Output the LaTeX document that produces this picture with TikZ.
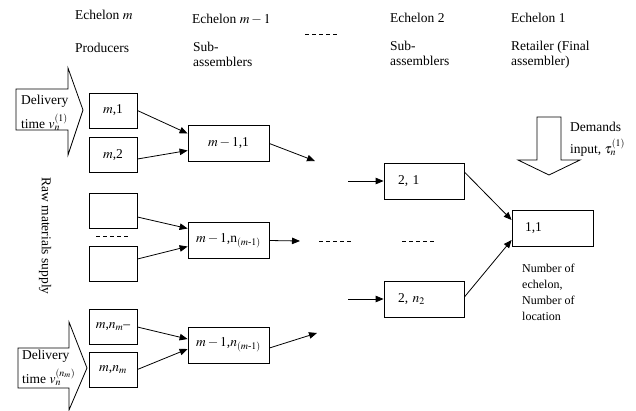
\documentclass[tikz,border=0pt]{standalone}
\usepackage{amsmath}
\usepackage{mathptmx}
\usepackage{fontspec}
\setmainfont{Liberation Serif}
\usetikzlibrary{calc,arrows.meta}
\tikzset{
    box/.style={draw, line width=0.8pt, inner sep=0pt},
    prod/.style={box, minimum width=48pt, minimum height=35pt},
    sub/.style={box, minimum width=81pt, minimum height=36pt},
    flow/.style={-{Triangle[length=8pt,width=6.5pt]}, line width=0.8pt},
    dashrow/.style={line width=0.8pt, dash pattern=on 4pt off 3pt},
    txt/.style={inner sep=0pt, anchor=west, align=left},
    blockarrow/.style={draw, line width=0.8pt, line join=miter}
}

\begin{document}
\begin{tikzpicture}[x=1pt,y=-1pt,font=\fontsize{13.5}{15}\selectfont]
    \useasboundingbox (0,0) rectangle (636,410);
    % column headings
    \node[txt] (hm) at (75,15) {Echelon $m$};
    \node[txt] (hprod) at (75,48) {Producers};
    \node[txt] (hm1) at (192,19) {Echelon $m-1$};
    \node[txt] (hsub1) at (193,54) {Sub-\\assemblers};
    \node[txt] (h2) at (390,18) {Echelon 2};
    \node[txt] (hsub2) at (390,53) {Sub-\\assemblers};
    \node[txt] (h1) at (511,18) {Echelon 1};
    \node[txt] (hret) at (511,55) {Retailer (Final\\assembler)};
    \coordinate (skiphead) at (305,34);
    \draw[dashrow] (skiphead) -- ++(33,0);

    % delivery arrows into the producers
    \draw[blockarrow] (16,89) -- (68,89) -- (68,68) -- (83,110) -- (68,155) -- (68,130) -- (16,130) -- cycle;
    \node[txt] (del1) at (21,113) {Delivery\\[5pt]time $v_n^{(1)}$};
    \draw[blockarrow] (18,348) -- (69,348) -- (69,322) -- (87,368) -- (69,410) -- (69,388) -- (18,388) -- cycle;
    \node[txt] (deln) at (22,368) {Delivery\\[5pt]time $v_n^{(n_m)}$};
    \node[inner sep=0pt, rotate=-90] (raw) at (45,236) {Raw materials supply};

    % producers (echelon m)
    \node[prod] (p1) at (113,110.5) {$m$,1};
    \node[prod] (p2) at (113,155) {$m$,2};
    \node[prod] (e1) at (113,211) {};
    \node[prod] (e2) at (113,264) {};
    \node[prod] (pn1) at (113,327) {$m$,$n_m$--};
    \node[prod] (pn) at (113,369.5) {$m$,$n_m$};
    \coordinate (skipprod) at (96,236);
    \draw[dashrow] (skipprod) -- ++(33,0);

    % sub-assemblers (echelon m-1)
    \node[sub] (sa1) at (228.5,143.5) {$m-1$,1};
    \node[sub] (sa2) at (228.5,240.5) {$m-1$,n$_{(m\text{-}1)}$};
    \node[sub] (sa3) at (228.5,345) {$m-1$,$n_{(m\text{-}1)}$};

    \draw[flow] (p1.east) -- ($(sa1.west)+(0,-10)$);
    \draw[flow] ($(p2.east)+(0,4)$) -- ($(sa1.west)+(0,7)$);
    \draw[flow] ($(e1.east)+(0,6)$) -- ($(sa2.west)+(0,-12)$);
    \draw[flow] ($(e2.east)+(0,-5)$) -- ($(sa2.west)+(0,6)$);
    \draw[flow] (pn1.east) -- ($(sa3.west)+(0,-6)$);
    \draw[flow] (pn.east) -- ($(sa3.west)+(0,4)$);

    % open ends towards the next echelons
    \coordinate (out1) at (315,161);
    \coordinate (out2) at (300,241);
    \coordinate (out3) at (317,333);
    \draw[flow] (sa1.east) -- (out1);
    \draw[flow] (sa2.east) -- (out2);
    \draw[flow] ($(sa3.east)+(0,3)$) -- (out3);
    \coordinate (skipmid) at (319,241);
    \draw[dashrow] (skipmid) -- ++(33,0);
    \coordinate (skipmid2) at (402,241);
    \draw[dashrow] (skipmid2) -- ++(34,0);

    % sub-assemblers (echelon 2)
    \node[sub, minimum width=80pt, text width=52pt] (s21) at (424,181) {2, 1};
    \node[sub, minimum width=80pt, text width=52pt] (s2n) at (424,299) {2, $n_2$};
    \coordinate (in1) at (348,181);
    \coordinate (in2) at (348,299);
    \draw[flow] (in1) -- (s21.west);
    \draw[flow] (in2) -- (s2n.west);

    % retailer (echelon 1)
    \node[sub, text width=55pt] (r11) at (552.5,228) {1,1};
    \draw[flow] ($(s21.east)+(0,-9)$) -- ($(r11.west)+(0,-8)$);
    \draw[flow] ($(s2n.east)+(0,-2)$) -- ($(r11.west)+(0,12)$);
    \node[txt, font=\fontsize{12}{16}\selectfont] (key) at (522,292) {Number of\\echelon,\\Number of\\location};

    % customer demand
    \draw[blockarrow] (537,117) -- (561,117) -- (561,160) -- (580,160) -- (549,175) -- (518,160) -- (537,160) -- cycle;
    \node[txt] (dem) at (570,139) {Demands\\[7pt]input, $\tau_n^{(1)}$};
\end{tikzpicture}
\end{document}
